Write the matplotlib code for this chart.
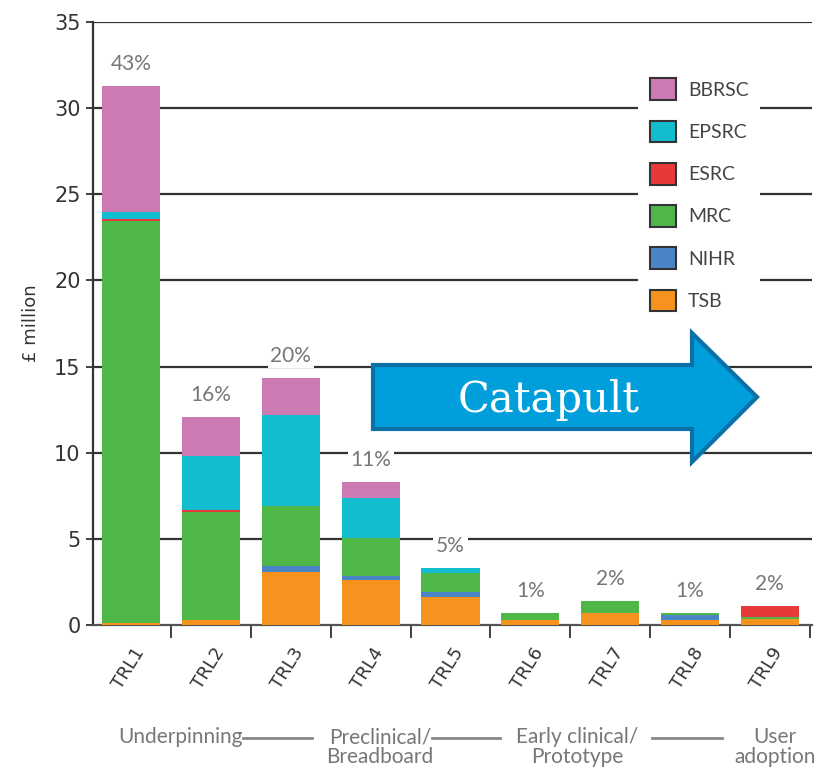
import matplotlib
matplotlib.use("Agg")
import matplotlib.pyplot as plt
import numpy as np
from matplotlib.patches import Polygon
from matplotlib.lines import Line2D

categories = ["TRL1", "TRL2", "TRL3", "TRL4", "TRL5", "TRL6", "TRL7", "TRL8", "TRL9"]
series_names = ["TSB", "NIHR", "MRC", "ESRC", "EPSRC", "BBRSC"]
tsb   = [0.10, 0.30, 3.05, 2.60, 1.65, 0.27, 0.70, 0.30, 0.33]
nihr  = [0.00, 0.00, 0.40, 0.25, 0.25, 0.00, 0.00, 0.30, 0.00]
mrc   = [23.35, 6.25, 3.45, 2.20, 1.10, 0.43, 0.67, 0.10, 0.14]
esrc  = [0.10, 0.10, 0.00, 0.00, 0.00, 0.00, 0.00, 0.00, 0.65]
epsrc = [0.45, 3.15, 5.30, 2.30, 0.30, 0.00, 0.00, 0.00, 0.00]
bbrsc = [7.30, 2.25, 2.15, 0.95, 0.00, 0.00, 0.00, 0.00, 0.00]
percent_labels = ["43%", "16%", "20%", "11%", "5%", "1%", "2%", "1%", "2%"]
stage_labels = ["Underpinning", "Preclinical/\nBreadboard", "Early clinical/\nPrototype", "User\nadoption"]
yticks = [0, 5, 10, 15, 20, 25, 30, 35]

plt.rcParams["font.family"] = "DejaVu Sans"
LIGHT = "Lato"

colors = {"BBRSC": "#cc7ab4", "EPSRC": "#13bdd0", "ESRC": "#e8393a",
          "MRC": "#4fb748", "NIHR": "#4a84c6", "TSB": "#f6921e"}
data = {"TSB": tsb, "NIHR": nihr, "MRC": mrc, "ESRC": esrc, "EPSRC": epsrc, "BBRSC": bbrsc}

fig = plt.figure(figsize=(8.15, 7.73), dpi=100)
ax = fig.add_axes([93/815, 1-625/773, (812-93)/815, (625-22)/773])

x = np.arange(len(categories))
bottom = np.zeros(len(categories))
handles = {}
for name in series_names:
    vals = np.array(data[name])
    b = ax.bar(x, vals, bottom=bottom, width=0.73, color=colors[name], zorder=3, linewidth=0)
    handles[name] = b
    bottom += vals

ax.set_xlim(-0.48, 8.53)
ax.set_ylim(0, 35)

# gridlines
for yv in yticks[1:]:
    ax.axhline(yv, color="#333333", lw=1.6, zorder=1)

# percent labels
for xi, tot, lab in zip(x, bottom, percent_labels):
    ax.text(xi, tot + 0.7, lab, ha="center", va="bottom", fontsize=15, color="#777777",
            family=LIGHT, zorder=4, bbox=dict(facecolor="white", edgecolor="none", pad=2))

ax.set_yticks(yticks)
ax.set_yticklabels([str(v) for v in yticks], fontsize=15, color="#333333")
ax.tick_params(axis="y", length=5, width=1.3, color="#333333", pad=4)
ax.set_xticks(x + 0.5)
ax.set_xticklabels([])
ax.tick_params(axis="x", length=9, width=1.3, color="#333333", direction="out")
for xi, lab in zip(x, categories):
    ax.text(xi + 0.02, -1.1, lab, rotation=58, ha="right", va="top", fontsize=13,
            color="#333333", rotation_mode="anchor")

for s in ["top", "right"]:
    ax.spines[s].set_visible(False)
ax.spines["left"].set_color("#333333")
ax.spines["left"].set_linewidth(1.6)
ax.spines["bottom"].set_color("#555555")
ax.spines["bottom"].set_linewidth(1.6)
ax.set_ylabel("£ million", fontsize=13, color="#333333", labelpad=10)

# legend
order = ["BBRSC", "EPSRC", "ESRC", "MRC", "NIHR", "TSB"]
leg = ax.legend([handles[n] for n in order], order, loc="upper left",
                bbox_to_anchor=(0.745, 0.942), frameon=True,
                prop={"family": LIGHT, "size": 14},
                labelcolor="#444444", handlelength=1.35, handleheight=1.35,
                labelspacing=1.05, borderpad=0.6, handletextpad=0.6)
leg.get_frame().set_edgecolor("none")
leg.get_frame().set_facecolor("white")
leg.get_frame().set_alpha(1.0)
leg.set_zorder(5)
for h in leg.legend_handles:
    h.set_edgecolor("#333333")
    h.set_linewidth(1.5)

# stage labels along bottom
stage_x = [180, 380, 577, 775]
for sx, lab in zip(stage_x, stage_labels):
    fig.text(sx/815, 1-727/773, lab, ha="center", va="top", fontsize=15,
             color="#777777", linespacing=1.0, family=LIGHT)
for x0, x1 in [(243, 312), (432, 500), (652, 722)]:
    fig.add_artist(Line2D([x0/815, x1/815], [1-738/773, 1-738/773],
                          color="#888888", lw=2, transform=fig.transFigure))

# Catapult arrow
W, H = 815, 773
pts = [(373, 365), (692, 365), (692, 333), (757, 397), (692, 462), (692, 429), (373, 429)]
poly = Polygon([(px/W, 1-py/H) for px, py in pts], closed=True, transform=fig.transFigure,
               facecolor="#009fdc", edgecolor="#0a70a6", linewidth=3, zorder=10)
fig.add_artist(poly)
fig.text(549/W, 1-400/H, "Catapult", ha="center", va="center", fontsize=30,
         color="white", family="DejaVu Serif", zorder=11)

fig.savefig("out.png", dpi=100)
